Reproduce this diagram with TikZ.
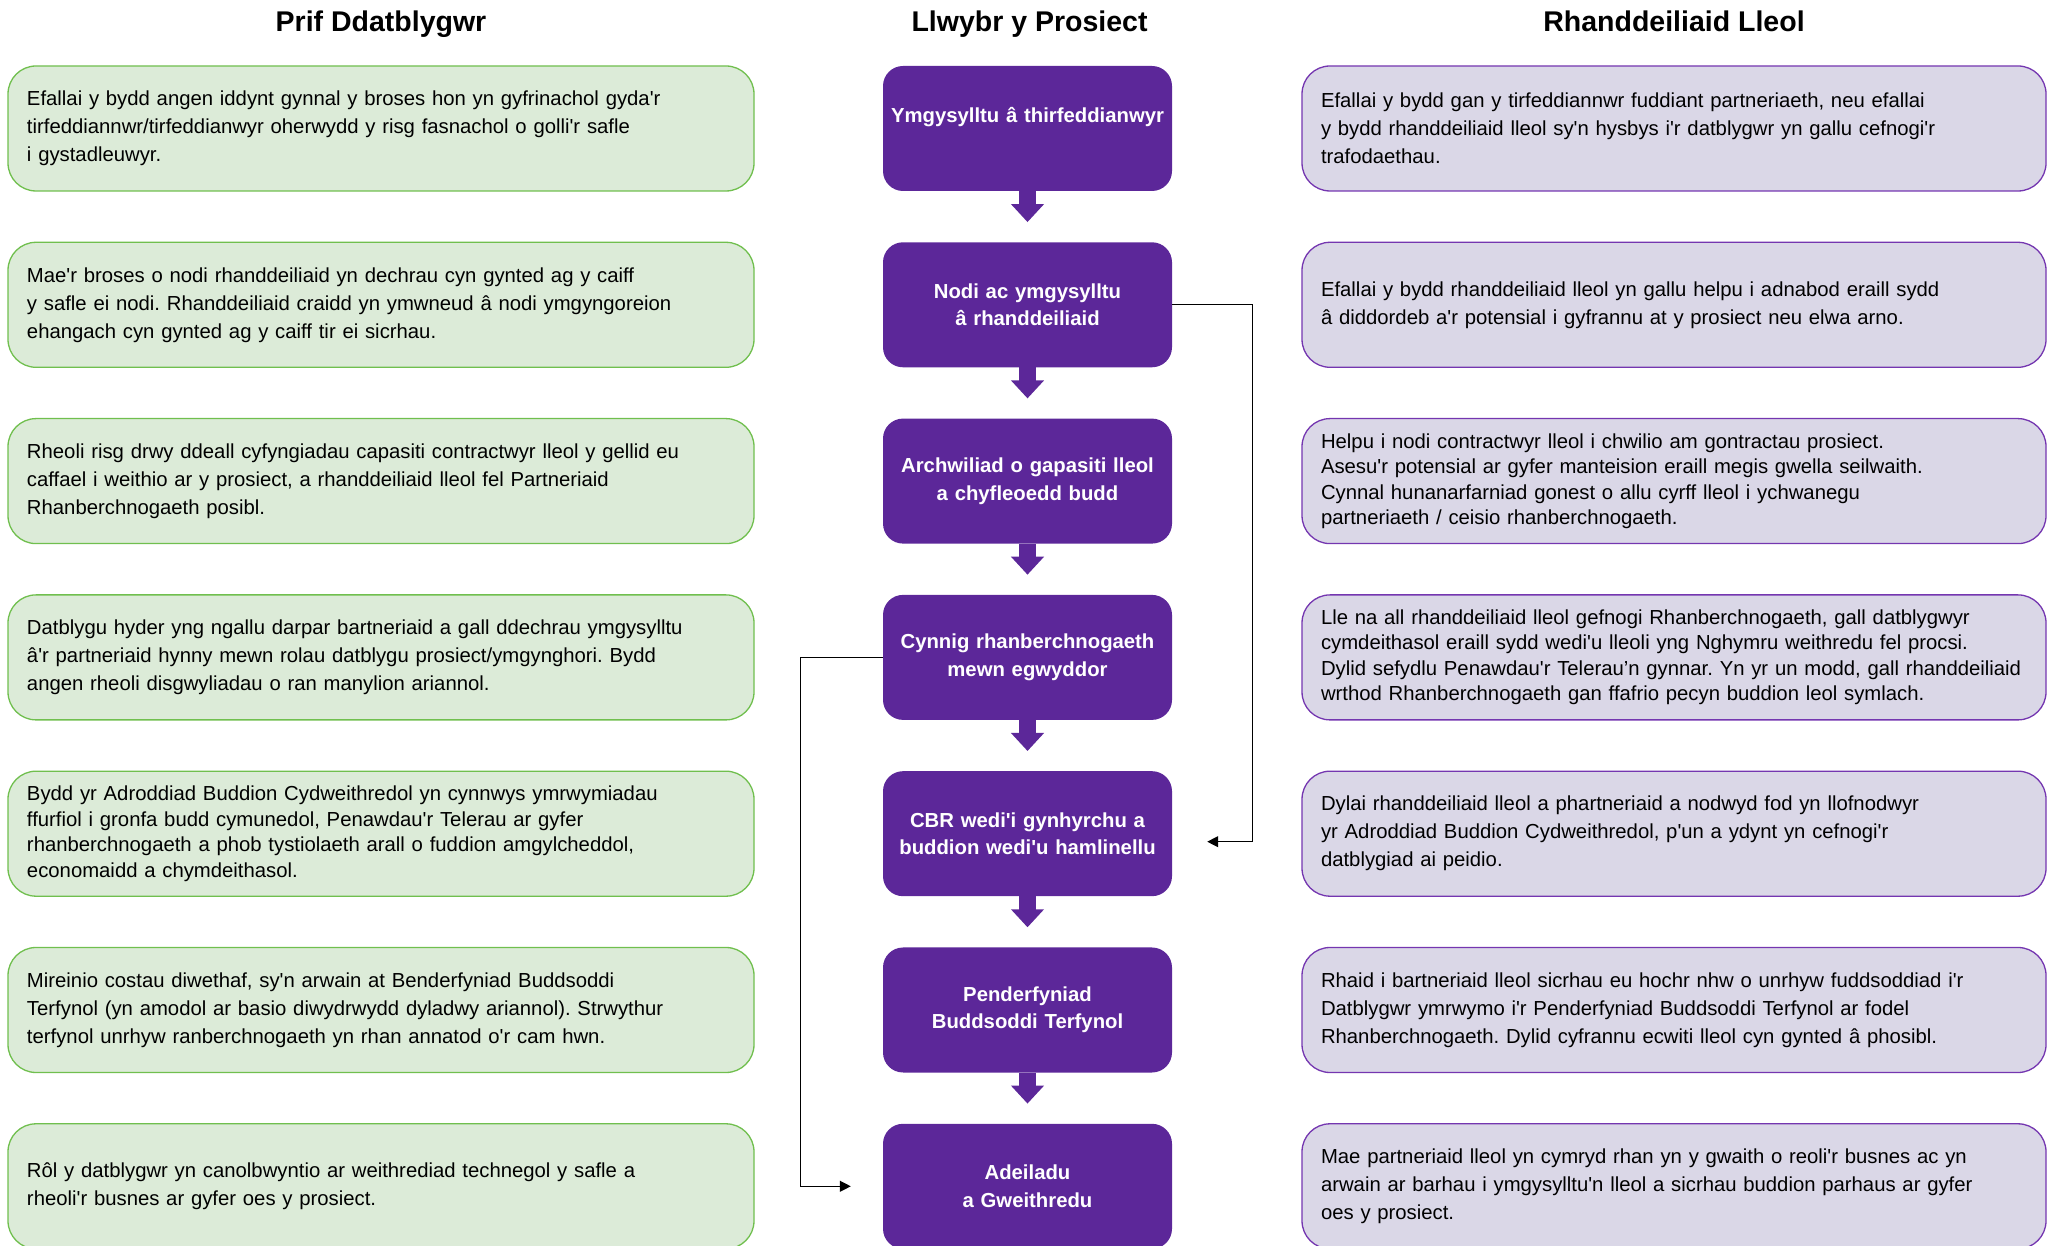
\documentclass[tikz,border=0pt]{standalone}
\usepackage{fontspec}
\setmainfont{Liberation Sans}[Ligatures=TeXOff]
\frenchspacing
\usetikzlibrary{arrows.meta}
\definecolor{devfill}{HTML}{DCEBD8}
\definecolor{devline}{HTML}{70BF4E}
\definecolor{locfill}{HTML}{DAD7E7}
\definecolor{locline}{HTML}{7436B0}
\definecolor{stagefill}{HTML}{5C2799}

\begin{document}
\begin{tikzpicture}[x=1pt,y=1pt,
  head/.style={anchor=base,font=\bfseries\fontsize{28.5}{32}\selectfont},
  dev/.style={draw=devline,fill=devfill,line width=1.3pt,rounded corners=28pt,
    minimum width=746pt,minimum height=125pt,inner xsep=19pt,text width=708pt,
    align=left,font=\fontsize{20.3}{28}\selectfont},
  loc/.style={dev,draw=locline,fill=locfill,minimum width=744pt,text width=706pt},
  tight/.style={font=\fontsize{20.3}{25.5}\selectfont},
  stage/.style={fill=stagefill,rounded corners=20pt,minimum width=289pt,minimum height=125pt,
    inner xsep=1.5pt,text width=286pt,align=center,text=white,
    font=\bfseries\fontsize{20.3}{27.5}\selectfont},
  flow/.style={draw=stagefill,line width=17.5pt,-{Triangle[length=18pt,width=32pt]}},
  link/.style={line width=1.2pt,-{Triangle[length=11pt,width=11pt]}}]

\useasboundingbox (0,0) rectangle (2063,1245);

\begin{scope}[xshift=381]
\node[head] (hdev) at (0,1213) {Prif Ddatblygwr};
\node[dev] (d1) at (0,1116.5) {Efallai y bydd angen iddynt gynnal y broses hon yn gyfrinachol gyda'r\\tirfeddiannwr/tirfeddianwyr oherwydd y risg fasnachol o golli'r safle\\i gystadleuwyr.};
\node[dev] (d2) at (0,940.2) {Mae'r broses o nodi rhanddeiliaid yn dechrau cyn gynted ag y caiff\\y safle ei nodi. Rhanddeiliaid craidd yn ymwneud â nodi ymgyngoreion\\ehangach cyn gynted ag y caiff tir ei sicrhau.};
\node[dev] (d3) at (0,763.9) {Rheoli risg drwy ddeall cyfyngiadau capasiti contractwyr lleol y gellid eu\\caffael i weithio ar y prosiect, a rhanddeiliaid lleol fel Partneriaid\\Rhanberchnogaeth posibl.};
\node[dev] (d4) at (0,587.6) {Datblygu hyder yng ngallu darpar bartneriaid a gall ddechrau ymgysylltu\\â'r partneriaid hynny mewn rolau datblygu prosiect/ymgynghori. Bydd\\angen rheoli disgwyliadau o ran manylion ariannol.};
\node[dev,tight] (d5) at (0,411.3) {Bydd yr Adroddiad Buddion Cydweithredol yn cynnwys ymrwymiadau\\ffurfiol i gronfa budd cymunedol, Penawdau'r Telerau ar gyfer\\rhanberchnogaeth a phob tystiolaeth arall o fuddion amgylcheddol,\\economaidd a chymdeithasol.};
\node[dev] (d6) at (0,235) {Mireinio costau diwethaf, sy'n arwain at Benderfyniad Buddsoddi\\Terfynol (yn amodol ar basio diwydrwydd dyladwy ariannol). Strwythur\\terfynol unrhyw ranberchnogaeth yn rhan annatod o'r cam hwn.};
\node[dev] (d7) at (0,58.7) {Rôl y datblygwr yn canolbwyntio ar weithrediad technegol y safle a\\rheoli'r busnes ar gyfer oes y prosiect.};
\end{scope}

\begin{scope}[xshift=1027.5]
\node[head] (hpath) at (2,1213) {Llwybr y Prosiect};
\node[stage] (p1) at (0,1116.5) {Ymgysylltu â thirfeddianwyr\\ \mbox{}};
\node[stage] (p2) at (0,940.2) {Nodi ac ymgysylltu\\â rhanddeiliaid};
\node[stage] (p3) at (0,763.9) {Archwiliad o gapasiti lleol\\a chyfleoedd budd};
\node[stage] (p4) at (0,587.6) {Cynnig rhanberchnogaeth\\mewn egwyddor};
\node[stage] (p5) at (0,411.3) {CBR wedi'i gynhyrchu a\\buddion wedi'u hamlinellu};
\node[stage] (p6) at (0,235) {Penderfyniad\\Buddsoddi Terfynol};
\node[stage] (p7) at (0,58.7) {Adeiladu\\a Gweithredu};
\end{scope}

\begin{scope}[xshift=1674]
\node[head] (hloc) at (0,1213) {Rhanddeiliaid Lleol};
\node[loc] (l1) at (0,1116.5) {Efallai y bydd gan y tirfeddiannwr fuddiant partneriaeth, neu efallai\\y bydd rhanddeiliaid lleol sy'n hysbys i'r datblygwr yn gallu cefnogi'r\\trafodaethau.};
\node[loc] (l2) at (0,940.2) {Efallai y bydd rhanddeiliaid lleol yn gallu helpu i adnabod eraill sydd\\â diddordeb a'r potensial i gyfrannu at y prosiect neu elwa arno.};
\node[loc,tight] (l3) at (0,763.9) {Helpu i nodi contractwyr lleol i chwilio am gontractau prosiect.\\Asesu'r potensial ar gyfer manteision eraill megis gwella seilwaith.\\Cynnal hunanarfarniad gonest o allu cyrff lleol i ychwanegu\\partneriaeth / ceisio rhanberchnogaeth.};
\node[loc,tight] (l4) at (0,587.6) {Lle na all rhanddeiliaid lleol gefnogi Rhanberchnogaeth, gall datblygwyr\\cymdeithasol eraill sydd wedi'u lleoli yng Nghymru weithredu fel procsi.\\Dylid sefydlu Penawdau'r Telerau’n gynnar. Yn yr un modd, gall rhanddeiliaid\\wrthod Rhanberchnogaeth gan ffafrio pecyn buddion leol symlach.};
\node[loc] (l5) at (0,411.3) {Dylai rhanddeiliaid lleol a phartneriaid a nodwyd fod yn llofnodwyr\\yr Adroddiad Buddion Cydweithredol, p'un a ydynt yn cefnogi'r\\datblygiad ai peidio.};
\node[loc] (l6) at (0,235) {Rhaid i bartneriaid lleol sicrhau eu hochr nhw o unrhyw fuddsoddiad i'r\\Datblygwr ymrwymo i'r Penderfyniad Buddsoddi Terfynol ar fodel\\Rhanberchnogaeth. Dylid cyfrannu ecwiti lleol cyn gynted â phosibl.};
\node[loc] (l7) at (0,58.7) {Mae partneriaid lleol yn cymryd rhan yn y gwaith o reoli'r busnes ac yn\\arwain ar barhau i ymgysylltu'n lleol a sicrhau buddion parhaus ar gyfer\\oes y prosiect.};
\end{scope}

\draw[flow] (p1.south) -- ([yshift=20]p2.north);
\draw[flow] (p2.south) -- ([yshift=20]p3.north);
\draw[flow] (p3.south) -- ([yshift=20]p4.north);
\draw[flow] (p4.south) -- ([yshift=20]p5.north);
\draw[flow] (p5.south) -- ([yshift=20]p6.north);
\draw[flow] (p6.south) -- ([yshift=20]p7.north);

\coordinate (in5) at ([xshift=35,yshift=-8]p5.east);
\coordinate (in7) at ([xshift=-32]p7.west);
\draw[link] (p2.east) -- ++(80,0) |- (in5);
\draw[link] (p4.west) -- ++(-82,0) |- (in7);

\end{tikzpicture}
\end{document}
